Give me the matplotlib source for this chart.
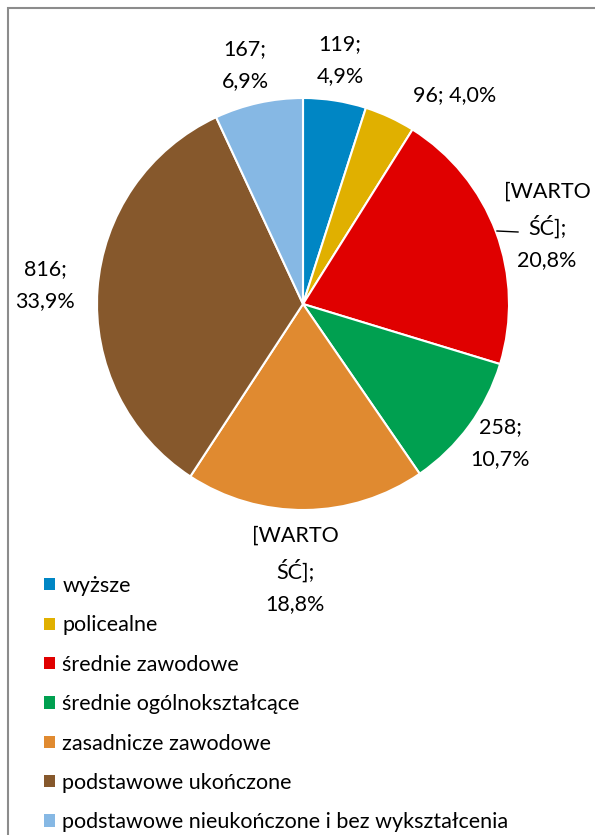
import matplotlib.pyplot as plt
from matplotlib.patches import Patch, Rectangle

# education levels (counts); two labels show Excel's "[WARTOŚĆ]" placeholder
categories = ["wyższe", "policealne", "średnie zawodowe", "średnie ogólnokształcące",
              "zasadnicze zawodowe", "podstawowe ukończone",
              "podstawowe nieukończone i bez wykształcenia"]
values = [119, 96, 501, 258, 453, 816, 167]
shown = ["119", "96", "[WARTO\nŚĆ]", "258", "[WARTO\nŚĆ]", "816", "167"]
colors = ["#0086C4", "#E0B000", "#E00000", "#00A050", "#E08A30", "#86582C", "#86B8E4"]

plt.rcParams['font.family'] = ['Lato', 'DejaVu Sans']

W, H = 595, 835
fig = plt.figure(figsize=(W / 100, H / 100), dpi=100)
ax = fig.add_axes([0, 0, 1, 1])

# chart frame (cut off at right/bottom)
ax.add_patch(Rectangle((8, -10), 600, H - 8 + 10, fill=False, ec="#8c8c8c", lw=1.5))

cx, cy, r = 303, H - 304, 206
ax.pie(values, colors=colors, startangle=90, counterclock=False,
       center=(cx, cy), radius=r, frame=True,
       wedgeprops=dict(edgecolor="white", linewidth=1.5))
ax.set_xlim(0, W)
ax.set_ylim(0, H)
ax.set_aspect('equal')
ax.axis('off')

fs = 15.5
total = sum(values)
label_pos = [(340, 60), (455, 95), (547, 226), (500, 443), (295, 570), (45, 285), (245, 65)]
for i, (v, s) in enumerate(zip(values, shown)):
    pct = f"{100 * v / total:.1f}%".replace(".", ",")
    if i == 1:
        txt = f"{s}; {pct}"
    else:
        txt = f"{s};\n{pct}"
    x, y = label_pos[i]
    ax.text(x, H - y, txt, ha="center", va="center", fontsize=fs, linespacing=1.7)

# leader line for the red slice label
ax.plot([497, 518], [H - 231, H - 232], color="black", lw=1)

handles = [Patch(facecolor=c, edgecolor="none") for c in colors]
ax.legend(handles, categories, loc="upper left", bbox_to_anchor=(44 / W, 1 - 576 / H),
          frameon=False, fontsize=fs, handlelength=0.5, handleheight=0.5,
          handletextpad=0.35, labelspacing=0.9, borderpad=0, borderaxespad=0)

fig.savefig("out.png", dpi=100)
